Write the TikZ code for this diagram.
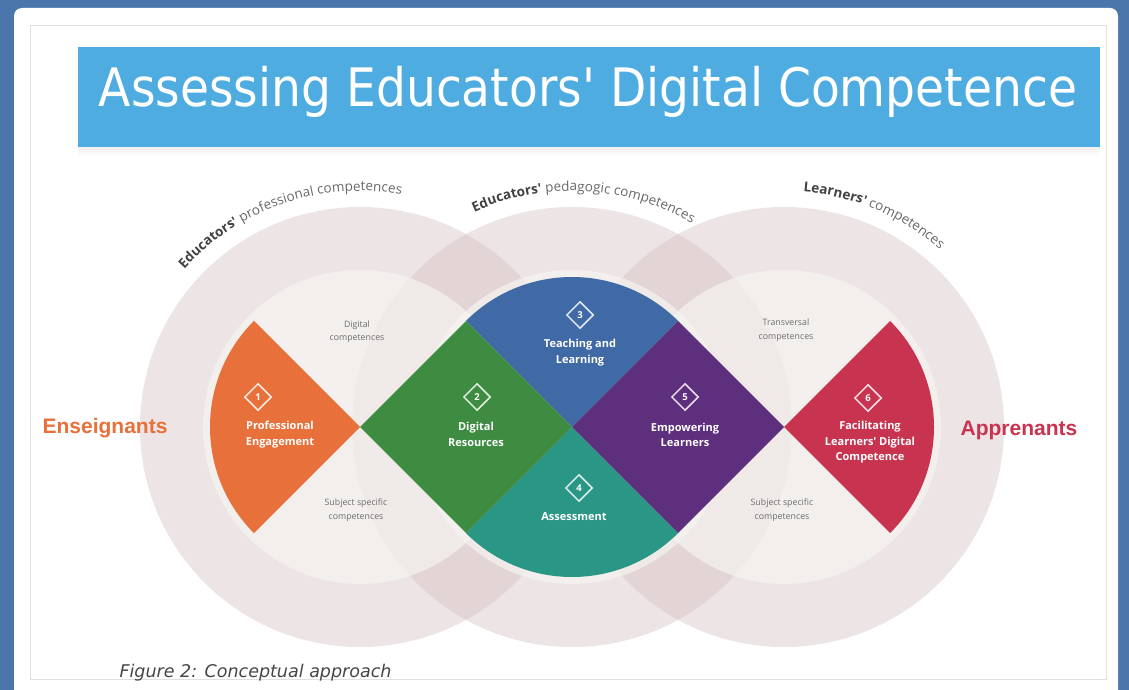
\documentclass[tikz,border=0pt]{standalone}
\usepackage{fontspec}
\usetikzlibrary{shapes.geometric,decorations.text,calc}
\newfontfamily\titlefont[FakeStretch=0.89,Ligatures=TeXOff]{DejaVu Sans}
\newfontfamily\capfont{DejaVu Sans}
\newfontfamily\lblfont{Open Sans}
\newfontfamily\sidefont{Liberation Sans}
\definecolor{frameblue}{RGB}{75,118,172}
\definecolor{titleblue}{RGB}{78,172,224}
\definecolor{ringbase}{RGB}{214,192,194}
\definecolor{innerlight}{RGB}{245,244,241}
\definecolor{corange}{RGB}{232,112,58}
\definecolor{cgreen}{RGB}{62,140,66}
\definecolor{cblue}{RGB}{64,106,166}
\definecolor{cteal}{RGB}{42,150,134}
\definecolor{cpurple}{RGB}{94,47,125}
\definecolor{cred}{RGB}{200,52,80}
\definecolor{txtdark}{RGB}{65,65,65}
\definecolor{txtgray}{RGB}{105,105,105}
\definecolor{smallgray}{RGB}{110,110,110}
\definecolor{capgray}{RGB}{70,70,70}
\newcommand\cvA{\lblfont\fontsize{13.5}{16}\selectfont\bfseries\color{txtdark}}
\newcommand\cvB{\lblfont\fontsize{13.5}{16}\selectfont\mdseries\color{txtgray}}
\begin{document}
\begin{tikzpicture}[x=1pt,y=-1pt,
  ring/.style={fill=ringbase, fill opacity=0.42},
  inner/.style={fill=innerlight, fill opacity=0.7},
  icon/.style={diamond, draw=white, draw opacity=0.85, line width=1.5pt, minimum size=27pt, inner sep=0pt, text=white, font=\lblfont\bfseries\fontsize{9.5}{9.5}\selectfont},
  lbl/.style={text=white, align=center, font=\lblfont\bfseries\fontsize{11}{15.5}\selectfont},
  sm/.style={text=smallgray, align=center, font=\lblfont\fontsize{8.8}{13.5}\selectfont},
  side/.style={font=\sidefont\bfseries\fontsize{21}{24}\selectfont},
  curved/.style={decorate, decoration={text along path, text align=center, text={#1}}}
]
\useasboundingbox (0,0) rectangle (1129,690);
\fill[frameblue] (0,0) rectangle (1129,690);
\fill[white, rounded corners=8pt] (14,8) rectangle (1118,710);
\draw[black!12, line width=0.8pt] (30,25) rectangle (1106,679);
% title
\shade[top color=black!6, bottom color=white] (78,147) rectangle (1100,156);
\fill[titleblue] (78,47) rectangle (1100,147);
\node[anchor=base, text=white, font=\titlefont\fontsize{53}{60}\selectfont] (title) at (588,107) {Assessing Educators' Digital Competence};
% centres
\coordinate (L) at (360,427);
\coordinate (M) at (572,427);
\coordinate (R) at (784,427);
% rings
\foreach \c in {L,M,R} \fill[ring] (\c) circle[radius=220];
\foreach \c in {L,M,R} \fill[inner] (\c) circle[radius=157];
% sectors and diamonds
\fill[corange] (L) -- ++(135:150) arc[start angle=135, end angle=225, radius=150] -- cycle;
\fill[cred] (R) -- ++(-45:150) arc[start angle=-45, end angle=45, radius=150] -- cycle;
\fill[cblue] (M) -- ++(-45:150) arc[start angle=-45, end angle=-135, radius=150] -- cycle;
\fill[cteal] (M) -- ++(45:150) arc[start angle=45, end angle=135, radius=150] -- cycle;
\fill[cgreen] (L) -- (466.07,320.93) -- (M) -- (466.07,533.07) -- cycle;
\fill[cpurple] (M) -- (678.07,320.93) -- (R) -- (678.07,533.07) -- cycle;
% curved headings
\path[curved={|\cvA|Educators'|\cvB| professional competences}] ($(L)+(-154:236)$) arc[start angle=-154, end angle=-64, radius=236];
\path[curved={|\cvA|Educators'|\cvB| pedagogic competences}] ($(M)+(-132:236)$) arc[start angle=-132, end angle=-42, radius=236];
\path[curved={|\cvA|Learners'|\cvB| competences}] ($(R)+(-112:236)$) arc[start angle=-112, end angle=-22, radius=236];
% icons
\node[icon] (i1) at (258,397) {1};
\node[icon] (i2) at (477,397) {2};
\node[icon] (i3) at (580,315) {3};
\node[icon] (i4) at (579,488) {4};
\node[icon] (i5) at (685,397) {5};
\node[icon] (i6) at (868,398) {6};
% labels
\node[lbl] (l1) at (280,434.5) {Professional\\Engagement};
\node[lbl] (l2) at (476,434.5) {Digital\\Resources};
\node[lbl] (l3) at (580,352.5) {Teaching and\\Learning};
\node[lbl] (l4) at (574,517) {Assessment};
\node[lbl] (l5) at (685,435) {Empowering\\Learners};
\node[lbl] (l6) at (870,442.5) {Facilitating\\Learners' Digital\\Competence};
% small grey texts
\node[sm] (s1) at (357,331.5) {Digital\\competences};
\node[sm] (s2) at (356,510) {Subject specific\\competences};
\node[sm] (s3) at (786,330) {Transversal\\competences};
\node[sm] (s4) at (782,510) {Subject specific\\competences};
% side labels
\node[side, text=corange] (ens) at (105,428) {Enseignants};
\node[side, text=cred] (app) at (1019,430) {Apprenants};
% caption
\node[anchor=base west, font=\capfont\itshape\fontsize{17.5}{20}\selectfont, text=capgray] (cap) at (116,677) {Figure 2: Conceptual approach};
\end{tikzpicture}
\end{document}
